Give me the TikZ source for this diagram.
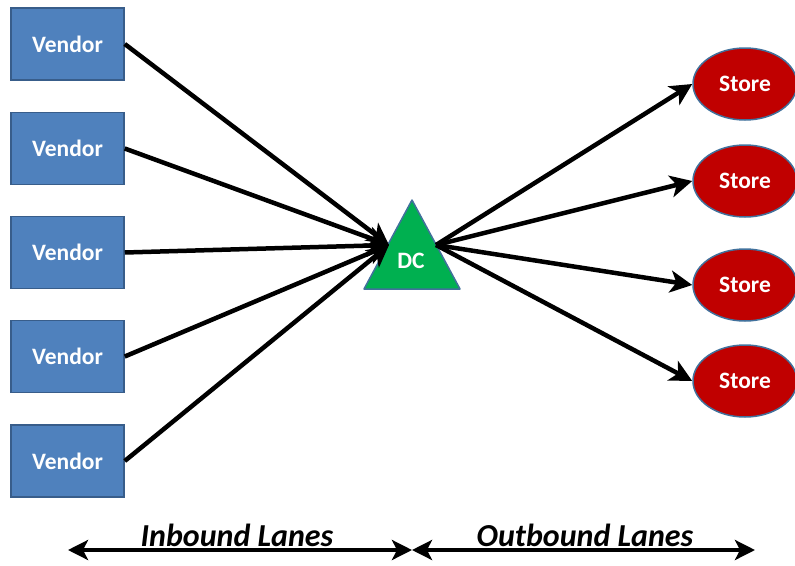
\documentclass[tikz,border=0pt]{standalone}
\usepackage{fontspec}
\setmainfont{Carlito}
\usetikzlibrary{arrows.meta,shapes.geometric}
\definecolor{vfill}{HTML}{4F81BD}
\definecolor{vdraw}{HTML}{385D8A}
\definecolor{dcfill}{HTML}{00B050}
\definecolor{sfill}{HTML}{C00000}
\definecolor{sdraw}{HTML}{41719C}
\tikzset{
  vendorbox/.style={draw=vdraw, line width=1.5pt, fill=vfill, minimum width=113pt, minimum height=72pt, inner sep=0pt, text=white, font=\fontsize{23.5}{26}\selectfont\bfseries},
  storebox/.style={ellipse, draw=sdraw, line width=1.5pt, fill=sfill, minimum width=104pt, minimum height=72pt, inner sep=0pt, text=white, font=\fontsize{23.5}{26}\selectfont\bfseries},
  lane/.style={line width=4.5pt, -{Stealth[length=22pt,width=22pt,inset=6pt]}},
  dim/.style={line width=4pt, {Stealth[length=20pt,width=20pt,inset=5pt]}-{Stealth[length=20pt,width=20pt,inset=5pt]}},
  lanelabel/.style={font=\fontsize{32}{34}\selectfont\bfseries\itshape, inner sep=0pt}
}
\begin{document}
\begin{tikzpicture}[x=1pt,y=-1pt]
\useasboundingbox (0,0) rectangle (795,565);
\node[vendorbox] (v1) at (67.5,44) {Vendor};
\node[vendorbox] (v2) at (67.5,148.5) {Vendor};
\node[vendorbox] (v3) at (67.5,252.5) {Vendor};
\node[vendorbox] (v4) at (67.5,356.5) {Vendor};
\node[vendorbox] (v5) at (67.5,461) {Vendor};
\coordinate (ta) at (412,200);
\coordinate (tl) at (364,289);
\coordinate (tr) at (460,289);
\draw[draw=sdraw, line width=1.5pt, fill=dcfill, line join=round] (ta) -- (tl) -- (tr) -- cycle;
\node[text=white, font=\fontsize{23.5}{26}\selectfont\bfseries] (dc) at (411,261) {DC};
\coordinate (dcin) at (389,245);
\coordinate (dcout) at (436,245);
\node[storebox] (s1) at (745,84) {Store};
\node[storebox] (s2) at (745,181) {Store};
\node[storebox] (s3) at (745,285) {Store};
\node[storebox] (s4) at (745,381) {Store};
\foreach \v in {v1,v2,v3,v4,v5} \draw[lane] (\v.east) -- (dcin);
\foreach \s in {s1,s2,s3,s4} \draw[lane] (dcout) -- (\s.west);
\coordinate (bl) at (68,550);
\coordinate (bm) at (412,550);
\coordinate (br) at (755,550);
\draw[dim] (bl) -- (bm);
\draw[dim] (bm) -- (br);
\node[lanelabel] (inl) at (237,536) {\underline{Inbound Lanes}};
\node[lanelabel] (outl) at (585,536) {\underline{Outbound Lanes}};
\end{tikzpicture}
\end{document}
